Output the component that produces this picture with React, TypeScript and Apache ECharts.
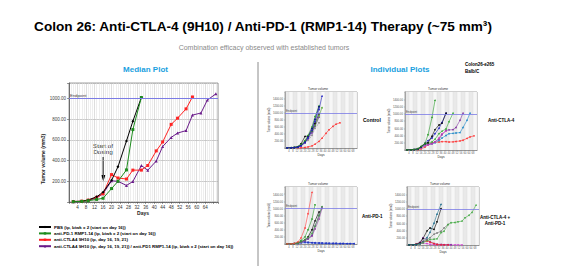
import React, { useEffect, useRef } from "react";
import * as echarts from "echarts";

// ---------- data ----------
const days = [2, 6, 9, 13, 16, 20, 23, 27, 30, 34, 37, 41, 44, 48, 51, 55, 58, 62, 65, 69];
const ENDPOINT = 1000;

const mainNames = [
  "PBS (ip, biwk x 2 (start on day 16))",
  "anti-PD-1 RMP1-14 (ip, biwk x 2 (start on day 16))",
  "anti-CTLA4 9H10 (ip, day 16, 19, 21)",
  "anti-CTLA4 9H10 (ip, day 16, 19, 21)) / anti-PD1 RMP1-14 (ip, biwk x 2 (start on day 16))",
];
const pbsMedian = [5, 8, 20, 50, 95, 210, 340, 590, 780, 1010];
const pd1Median = [3, 6, 12, 25, 36, 130, 200, 310, 700, 1010];
const ctla4Median = [4, 8, 18, 45, 80, 265, 232, 222, 308, 308, 353, 494, 580, 750, 810, 900, 1015];
const comboMedian = [3, 6, 14, 40, 80, 205, 200, 160, 198, 352, 307, 396, 536, 624, 666, 690, 840, 860, 985, 1045];

const controlMice = [
  [1, 2, 3, 5, 8, 15, 30, 60, 110, 190, 280, 420, 520, 620, 680, 720],
  [2, 5, 12, 30, 70, 140, 220, 360, 560, 720],
  [2, 4, 10, 28, 70, 160, 260, 430, 620, 880],
  [2, 6, 15, 40, 120, 330, 340, 480, 700, 980],
  [2, 5, 12, 35, 90, 200, 330, 480, 640, 920, 1150],
  [3, 6, 15, 40, 100, 210, 360, 600, 900, 1200],
  [2, 5, 12, 30, 70, 170, 320, 560, 820, 1180],
  [2, 4, 10, 25, 60, 150, 280, 500, 760, 1100, 1480],
];
const ctla4Mice = [
  [1, 2, 4, 10, 30, 80, 140, 190, 210, 220, 230, 230, 220, 225, 235, 250, 270, 320, 360, 390],
  [2, 4, 8, 25, 60, 120, 150, 170, 200, 260, 330, 400, 450, 460, 470, 480, 620, 820, 1017],
  [2, 4, 10, 30, 70, 150, 160, 180, 230, 300, 420, 540, 555, 560, 620, 820, 1017],
  [2, 4, 8, 25, 60, 120, 140, 170, 220, 330, 450, 520],
  [2, 4, 10, 30, 80, 160, 190, 220, 300, 450, 520, 580, 780, 1017],
  [2, 5, 12, 30, 80, 180, 260, 330, 450, 600, 760, 1017],
  [2, 5, 12, 35, 90, 180, 200, 380, 560, 690, 740, 1017],
  [2, 5, 12, 40, 100, 185, 420, 900, 1370],
];
const pd1Mice = [
  [1, 3, 6, 15, 30, 40, 35, 30, 25, 20, 15, 15, 10, 10, 10, 10, 10, 10, 10, 10],
  [2, 4, 10, 25, 50, 60, 50, 40, 35, 30, 30, 25, 25, 20, 20, 15, 15, 10, 10, 10],
  [2, 4, 10, 25, 60, 120, 200, 400, 650, 900],
  [2, 4, 8, 20, 45, 90, 140, 220, 420, 700, 1000],
  [2, 4, 8, 20, 50, 100, 150, 250, 500, 800, 1040],
  [2, 4, 8, 25, 60, 120, 180, 300, 500, 800, 1050],
  [2, 4, 10, 40, 100, 200, 400, 700, 1100],
  [2, 5, 15, 60, 170, 450, 850, 1450],
];
const comboMice = [
  [2, 4, 10, 30, 50, 40, 20, 10, 8, 6, 5, 5, 5, 4, 4, 4],
  [2, 5, 20, 80, 200, 150, 90, 40, 20, 15, 10, 10, 8],
  [2, 5, 20, 60, 100, 110, 80, 40, 15, 5, 3, 2],
  [2, 4, 10, 30, 70, 150, 200, 300, 330, 380, 470, 570],
  [2, 4, 10, 30, 60, 120, 150, 160, 170, 340, 380, 560, 615, 620, 640, 660, 750, 820, 900, 1100],
  [2, 5, 15, 60, 180, 390, 470, 430, 640, 1000],
  [2, 5, 12, 40, 100, 200, 350, 600, 850, 1120],
];

// ---------- styles ----------
const mainColors = ["#000000", "#1e8c1e", "#ff2222", "#6a1b8a"];
const controlColors = ["#ff3030", "#888888", "#7030a0", "#000000", "#55aa33", "#2a9a2a", "#000080", "#2020c0"];
const ctla4Colors = ["#ff3030", "#1e88c8", "#8030a0", "#d040c0", "#33aa33", "#2020c0", "#000000", "#2a9a2a"];
const pd1Colors = ["#3050d0", "#2030c0", "#000000", "#9040a0", "#7030a0", "#44aa44", "#2a9a2a", "#ff4040"];
const comboColors = ["#d040d0", "#8030a0", "#ff2020", "#777777", "#44aa44", "#000000", "#1a6a8a"];

const FONT = "Liberation Sans, Arial, sans-serif";
const toPts = (vals: number[]) => vals.map((v, i) => [days[i], v]);

function txt(text: string, x: number, y: number, size: number, opts: any = {}) {
  return {
    type: "text",
    x,
    y,
    rotation: opts.rotation || 0,
    silent: true,
    style: {
      text,
      fill: opts.color || "#000",
      fontSize: size,
      fontWeight: opts.weight || "normal",
      fontFamily: FONT,
      align: opts.align || "center",
      textAlign: opts.align || "center",
      verticalAlign: "middle",
      textVerticalAlign: "middle",
    },
  };
}

export default function App() {
  const ref = useRef<HTMLDivElement>(null);
  useEffect(() => {
    if (!ref.current) return;
    const chart = echarts.init(ref.current, null, { renderer: "svg" });

    const smallBoxes = [
      { left: 285, top: 92, width: 72, height: 56 },
      { left: 405, top: 92, width: 72, height: 58 },
      { left: 285, top: 187, width: 72, height: 57 },
      { left: 407, top: 187, width: 72, height: 58 },
    ];
    const grids: any[] = [{ left: 69, top: 83, width: 149, height: 119 }, ...smallBoxes].map((g, i) => ({
      ...g,
      show: true,
      borderColor: "#888",
      borderWidth: 0.8,
      backgroundColor: i === 0 ? "#fff" : "#f0f0f0",
    }));

    const xAxes: any[] = [
      {
        gridIndex: 0,
        type: "value",
        min: 0,
        max: 70,
        interval: 4,
        axisLine: { onZero: false, lineStyle: { color: "#555", width: 0.8 } },
        axisTick: { show: true, length: 2, lineStyle: { color: "#555", width: 0.6 } },
        minorTick: { show: true, splitNumber: 4, length: 1.5, lineStyle: { color: "#777", width: 0.5 } },
        splitLine: { show: true, lineStyle: { color: "#bdbdbd", width: 0.5 } },
        minorSplitLine: { show: true, lineStyle: { color: "#dcdcdc", width: 0.5 } },
        axisLabel: {
          fontSize: 4.5,
          color: "#333",
          margin: 3,
          formatter: (v: number) => (v === 0 || v >= 68 ? "" : String(v)),
        },
      },
    ];
    const yAxes: any[] = [
      {
        gridIndex: 0,
        type: "value",
        min: 0,
        max: 1150,
        interval: 200,
        axisLine: { show: true, lineStyle: { color: "#555", width: 0.8 } },
        axisTick: { show: true, length: 2, lineStyle: { color: "#555", width: 0.6 } },
        splitLine: { show: true, lineStyle: { color: "#a8a8a8", width: 0.6 } },
        axisLabel: {
          fontSize: 4.5,
          color: "#444",
          margin: 3,
          formatter: (v: number) => (v === 0 || v % 200 !== 0 ? "" : v.toFixed(2)),
        },
      },
    ];
    for (let k = 1; k <= 4; k++) {
      xAxes.push({
        gridIndex: k,
        type: "value",
        min: 0,
        max: 72,
        interval: 4,
        axisLine: { onZero: false, lineStyle: { color: "#777", width: 0.6 } },
        axisTick: { show: true, length: 1, lineStyle: { color: "#777", width: 0.4 } },
        splitLine: { show: true, lineStyle: { color: "#d8d8d8", width: 0.4 } },
        splitArea: { show: true, areaStyle: { color: ["#e9e9e9", "#f7f7f7"] } },
        axisLabel: {
          fontSize: 2.6,
          color: "#555",
          margin: 2,
          formatter: (v: number) => (v === 0 || v >= 72 ? "" : String(v)),
        },
      });
      yAxes.push({
        gridIndex: k,
        type: "value",
        min: 0,
        max: 1600,
        interval: 200,
        axisLine: { show: true, lineStyle: { color: "#777", width: 0.6 } },
        axisTick: { show: true, length: 1, lineStyle: { color: "#777", width: 0.4 } },
        splitLine: { show: true, lineStyle: { color: "#b8b8b8", width: 0.5 } },
        axisLabel: {
          fontSize: 2.8,
          color: "#555",
          margin: 2,
          formatter: (v: number) => (v === 0 || v >= 1600 ? "" : v.toFixed(2)),
        },
      });
    }

    const endpointMark = (size: number, width: number) => ({
      silent: true,
      symbol: "none",
      lineStyle: { color: "#7b7be6", width, type: "solid" },
      label: {
        show: true,
        position: "insideStartTop",
        formatter: "Endpoint",
        fontSize: size,
        color: "#444",
        distance: 1,
      },
      data: [{ yAxis: ENDPOINT }],
    });

    const series: any[] = [];
    const mainData = [pbsMedian, pd1Median, ctla4Median, comboMedian];
    const mainSymbols = ["diamond", "rect", "rect", "triangle"];
    [3, 2, 0, 1].forEach((i) => {
      series.push({
        name: mainNames[i],
        type: "line",
        xAxisIndex: 0,
        yAxisIndex: 0,
        data: toPts(mainData[i]),
        symbol: mainSymbols[i],
        symbolSize: 3,
        lineStyle: { color: mainColors[i], width: 1 },
        itemStyle: { color: mainColors[i] },
        markLine: i === 3 ? endpointMark(4.2, 1) : undefined,
      });
    });

    const groups = [
      [controlMice, controlColors],
      [ctla4Mice, ctla4Colors],
      [pd1Mice, pd1Colors],
      [comboMice, comboColors],
    ] as [number[][], string[]][];
    groups.forEach(([mice, colors], g) => {
      mice.forEach((vals, j) => {
        series.push({
          name: `mouse-${g}-${j}`,
          type: "line",
          xAxisIndex: g + 1,
          yAxisIndex: g + 1,
          data: toPts(vals),
          symbol: "circle",
          symbolSize: 1.6,
          lineStyle: {
            color: colors[j],
            width: 0.6,
            type: colors[j] === "#888888" ? "dashed" : "solid",
          },
          itemStyle: { color: colors[j] },
          markLine: j === 0 ? endpointMark(2.8, 0.8) : undefined,
        });
      });
    });

    const graphics: any[] = [
      txt("Colon 26: Anti-CTLA-4 (9H10) / Anti-PD-1 (RMP1-14) Therapy (~75 mm³)", 263, 26, 13.6, { weight: "bold" }),
      txt("Combination efficacy observed with established tumors", 264, 47.5, 7, { color: "#8a8a8a" }),
      txt("Median Plot", 145.5, 69.5, 8, { weight: "bold", color: "#1a9fe0" }),
      txt("Individual Plots", 400, 69.5, 8, { weight: "bold", color: "#1a9fe0" }),
      txt("Colon26-e265", 465, 64, 4.5, { weight: "bold", align: "left" }),
      txt("Balb/C", 465, 71.5, 4.5, { weight: "bold", align: "left" }),
      {
        type: "line",
        silent: true,
        shape: { x1: 258, y1: 62, x2: 258, y2: 266 },
        style: { stroke: "#8c8c8c", lineWidth: 1 },
      },
      txt("Tumor volume (mm3)", 43, 159, 5, { weight: "bold", rotation: Math.PI / 2, color: "#222" }),
      txt("Days", 143, 213, 5, { weight: "bold", color: "#222" }),
      txt("Start of", 103, 145, 6.2, { color: "#222" }),
      txt("Dosing", 103, 151.7, 6.2, { color: "#222" }),
      {
        type: "line",
        silent: true,
        shape: { x1: 103.3, y1: 157, x2: 103.3, y2: 176 },
        style: { stroke: "#000", lineWidth: 1.3 },
      },
      {
        type: "polygon",
        silent: true,
        shape: { points: [[101.2, 175], [105.4, 175], [103.3, 181.5]] },
        style: { fill: "#000" },
      },
      txt("Control", 363, 120, 5, { weight: "bold", align: "left" }),
      txt("Anti-CTLA-4", 488, 120, 4.5, { weight: "bold", align: "left" }),
      txt("Anti-PD-1", 362, 216.7, 4.5, { weight: "bold", align: "left" }),
      txt("Anti-CTLA-4 +", 495, 217.5, 4.5, { weight: "bold" }),
      txt("Anti-PD-1", 495, 223.5, 4.5, { weight: "bold" }),
    ];
    smallBoxes.forEach((b) => {
      graphics.push(txt("Tumor volume", b.left + b.width / 2 - 3, b.top - 3, 3.2, { color: "#333" }));
      graphics.push(txt("Days", b.left + b.width / 2, b.top + b.height + 7, 3.2, { color: "#333" }));
      graphics.push(
        txt("Tumor volume (mm3)", b.left - 16, b.top + b.height / 2, 2.6, { rotation: Math.PI / 2, color: "#333" })
      );
    });

    chart.setOption({
      animation: false,
      backgroundColor: "#fff",
      textStyle: { fontFamily: FONT },
      grid: grids,
      xAxis: xAxes,
      yAxis: yAxes,
      legend: {
        data: mainNames,
        left: 38,
        top: 225,
        orient: "vertical",
        itemGap: 2.4,
        itemWidth: 12,
        itemHeight: 3,
        padding: 0,
        selectedMode: false,
        textStyle: { fontSize: 4.4, fontWeight: "bold", color: "#000", padding: [0, 0, 0, -2] },
      },
      series,
      graphic: graphics,
    });
    return () => chart.dispose();
  }, []);
  return <div ref={ref} style={{ position: "absolute", left: 0, top: 0, width: 570, height: 275 }} />;
}
